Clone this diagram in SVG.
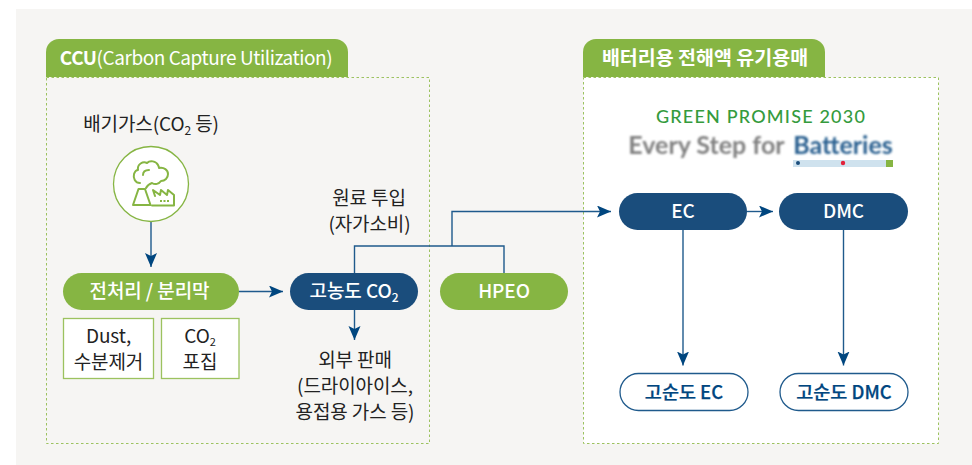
<svg xmlns="http://www.w3.org/2000/svg" width="972" height="465" viewBox="0 0 972 465">
<defs>
<style>
text{font-family:"Noto Sans CJK KR","Noto Sans",sans-serif;text-anchor:middle}
.t{font-size:19px;fill:#222;letter-spacing:-.1px}
.w{font-size:19px;fill:#fff;font-weight:500;letter-spacing:-.1px}
.h{font-size:19px;fill:#fff;letter-spacing:-.45px}
.n{font-size:18.500px;fill:#00467f;font-weight:500;stroke:#00467f;stroke-width:.25px}
.g{fill:#86b543}
.navy{fill:#1a4d7c}
.dash{stroke:#9cc25f;stroke-width:1;stroke-dasharray:2.5 2.5}
.box{fill:#fff;stroke:#9cc25f;stroke-width:1.3}
.c{fill:none;stroke:#1f5a8c;stroke-width:1.4}
.i{fill:none;stroke:#86b543;stroke-width:2;stroke-linejoin:round;stroke-linecap:round}
</style>
<marker id="a" markerUnits="userSpaceOnUse" markerWidth="16" markerHeight="14" refX="14" refY="6" orient="auto"><path d="M0 0L14 6L0 12L3 6Z" fill="#00467f"/></marker>
<filter id="b" x="-5%" y="-20%" width="110%" height="140%"><feGaussianBlur stdDeviation="0.9"/></filter>
</defs>
<rect width="972" height="465" fill="#fff"/>
<rect x="16" y="9" width="956" height="456" fill="#f6f5f3"/>
<g id="panel-ccu">
<rect class="dash" x="46.500" y="77.500" width="383" height="366" fill="#f6f5f3"/>
<path class="g" d="M46 77V52a13 13 0 0 1 13-13H335a13 13 0 0 1 13 13V77Z"/>
<text class="h" x="196" y="64.500"><tspan font-weight="700">CCU</tspan>(Carbon Capture Utilization)</text>
</g>
<g id="panel-battery">
<rect class="dash" x="583.500" y="77.500" width="355" height="366" fill="#fff"/>
<path class="g" d="M583 77V52a13 13 0 0 1 13-13H812a13 13 0 0 1 13 13V77Z"/>
<text class="h" x="705" y="64.500" style="font-size:19.500px;font-weight:700;letter-spacing:0">배터리용 전해액 유기용매</text>
</g>
<g id="logo">
<text x="761" y="123" style="font-family:Lato,sans-serif;font-size:18px;fill:#359b3d;font-weight:500;letter-spacing:1.2px">GREEN PROMISE 2030</text>
<g filter="url(#b)">
<text x="706.500" y="154" style="font-family:Lato,sans-serif;font-size:25px;fill:#808080;font-weight:700">Every Step for</text>
<text x="843" y="154" style="font-family:Lato,sans-serif;font-size:25px;fill:#2a6090;font-weight:700">Batteries</text>
</g>
<rect x="793" y="160" width="100" height="7" fill="#cfe2ee"/>
<circle cx="798" cy="163" r="2" fill="#1a4d7c"/>
<circle cx="843" cy="163" r="2.200" fill="#e2213a"/>
<rect x="886" y="160" width="7" height="7" fill="#86b543"/>
</g>
<g id="connectors">
<path class="c" d="M151 222V267" marker-end="url(#a)"/>
<path class="c" d="M239 291.500H283" marker-end="url(#a)"/>
<path class="c" d="M354.500 310V340" marker-end="url(#a)"/>
<path class="c" d="M354.500 273V246H504V273"/>
<path class="c" d="M452 246V211.500H611" marker-end="url(#a)"/>
<path class="c" d="M747 211.500H773" marker-end="url(#a)"/>
<path class="c" d="M683 230V365.500" marker-end="url(#a)"/>
<path class="c" d="M843.500 230V365.500" marker-end="url(#a)"/>
</g>
<g id="node-exhaust">
<text class="t" x="151" y="131">배기가스(CO<tspan font-size="12" dy="4">2</tspan><tspan dy="-4"> 등)</tspan></text>
<circle cx="151" cy="184" r="37.500" fill="#fff" stroke="#86b543" stroke-width="1.300"/>
<path class="i" d="M140 183c-5 0-7-5-6-9 1-3 3-4 4-4-1-6 5-9 9-7 3-3 9-2 11 2 1 2 1 3 1 3 5-1 9 2 9 6 0 4-3 7-7 7-2 3-6 4-9 2-3 1-5 3-6 5"/>
<path class="i" d="M143 175c0-3 2-5 6-5"/>
<path class="i" d="M133 205L138.500 189H145L150.500 205Z"/>
<path class="i" d="M152 205.500H174V195L168 190L167 195L161 190L160 195L153 190L155 196"/>
<path d="M160 201h2M163.500 201h2M167 201h2" stroke="#86b543" stroke-width="2" fill="none"/>
</g>
<g id="node-pretreat">
<rect class="g" x="63" y="273" width="176" height="37" rx="18.500"/>
<text class="w" x="149.500" y="298">전처리 / 분리막</text>
</g>
<g id="node-dust">
<rect class="box" x="63.500" y="318.500" width="90" height="60"/>
<text class="t" x="108.500" y="343">Dust,</text>
<text class="t" x="108.500" y="368.500">수분제거</text>
</g>
<g id="node-capture">
<rect class="box" x="161.500" y="318.500" width="77.500" height="60"/>
<text class="t" x="200" y="342.500">CO<tspan font-size="11" dy="3">2</tspan></text>
<text class="t" x="200" y="368.500">포집</text>
</g>
<g id="node-co2">
<rect class="navy" x="290" y="273" width="128" height="37" rx="18.500"/>
<text class="w" x="354" y="298">고농도 CO<tspan font-size="12" dy="4">2</tspan></text>
</g>
<g id="node-hpeo">
<rect class="g" x="440" y="273" width="128" height="37" rx="18.500"/>
<text class="w" x="504" y="298">HPEO</text>
</g>
<g id="label-input">
<text class="t" x="369" y="204.500">원료 투입</text>
<text class="t" x="369.500" y="230.500">(자가소비)</text>
</g>
<g id="label-sale">
<text class="t" x="355" y="367">외부 판매</text>
<text class="t" x="355" y="393">(드라이아이스,</text>
<text class="t" x="355" y="419">용접용 가스 등)</text>
</g>
<g id="node-ec">
<rect class="navy" x="619" y="193" width="128" height="37" rx="18.500"/>
<text class="w" x="683" y="218">EC</text>
</g>
<g id="node-dmc">
<rect class="navy" x="779" y="193" width="129" height="37" rx="18.500"/>
<text class="w" x="843.500" y="218">DMC</text>
</g>
<g id="node-hp-ec">
<rect x="620" y="373.500" width="128" height="37" rx="18.500" fill="#fff" stroke="#1f5a8c" stroke-width="1.300"/>
<text class="n" x="684" y="398.500">고순도 EC</text>
</g>
<g id="node-hp-dmc">
<rect x="780" y="373.500" width="128" height="37" rx="18.500" fill="#fff" stroke="#1f5a8c" stroke-width="1.300"/>
<text class="n" x="844" y="398.500">고순도 DMC</text>
</g>
</svg>
